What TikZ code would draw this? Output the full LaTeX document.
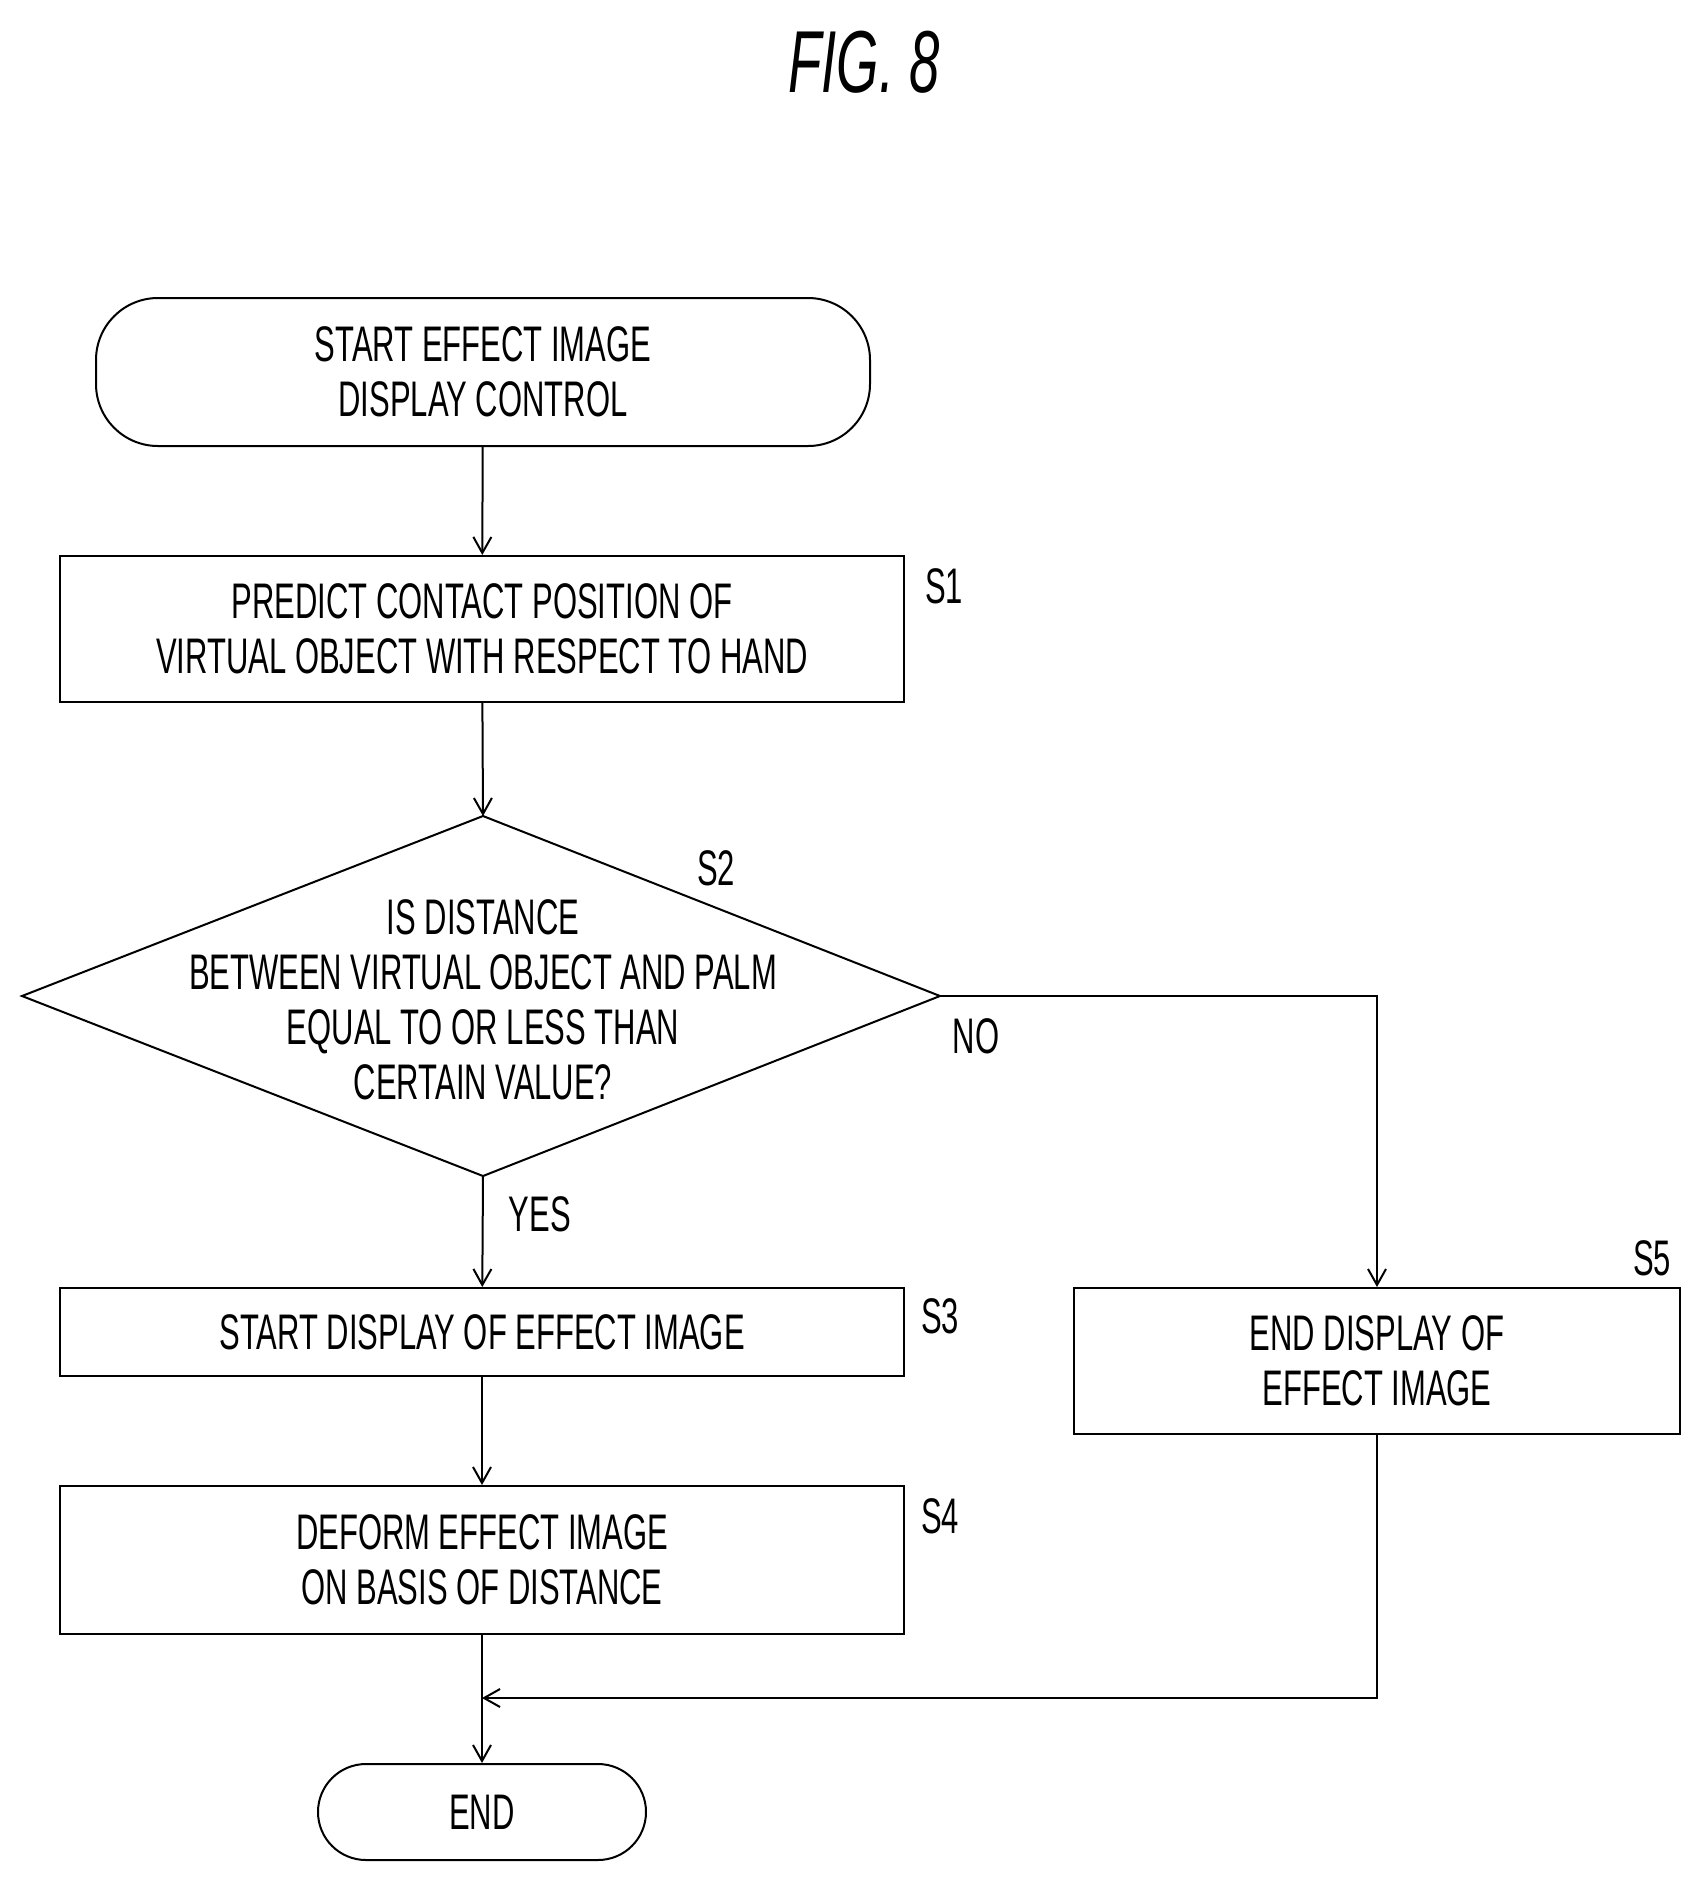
\documentclass[tikz,border=0pt]{standalone}
\usepackage{fontspec}
\setmainfont{Liberation Sans}[FakeStretch=0.62]
\usetikzlibrary{arrows.meta}
\begin{document}
\begin{tikzpicture}[x=1pt,y=-1pt,
  every node/.style={font=\fontsize{50}{55}\selectfont, align=center},
  box/.style={draw, line width=2pt, inner sep=0pt},
  lab/.style={font=\fontsize{50}{55}\selectfont},
  ln/.style={line width=2pt},
  arr/.style={ln, -{Straight Barb[length=16pt,width=18pt,line width=2pt]}}]
\useasboundingbox (0,0) rectangle (1704,1883);
\node[font=\fontsize{88}{90}\selectfont\itshape] (title) at (864,62) {FIG. 8};
\node[box, rounded corners=62pt, minimum width=774pt, minimum height=148pt] (start) at (483,372) {START EFFECT IMAGE\\DISPLAY CONTROL};
\node[box, minimum width=844pt, minimum height=146pt] (s1) at (482,629) {PREDICT CONTACT POSITION OF\\VIRTUAL OBJECT WITH RESPECT TO HAND};
\node[lab] (l1) at (944,586) {S1};
\coordinate (dt) at (483,816); \coordinate (db) at (483,1176);
\coordinate (dl) at (22,996); \coordinate (dr) at (940,996);
\draw[ln] (dt) -- (dr) -- (db) -- (dl) -- cycle;
\node (s2) at (483,1000) {IS DISTANCE\\BETWEEN VIRTUAL OBJECT AND PALM\\EQUAL TO OR LESS THAN\\CERTAIN VALUE?};
\node[lab] (l2) at (716,868) {S2};
\node[lab] (no) at (976,1036) {NO};
\node[lab] (yes) at (540,1214) {YES};
\node[box, minimum width=844pt, minimum height=88pt] (s3) at (482,1332) {START DISPLAY OF EFFECT IMAGE};
\node[lab] (l3) at (940,1316) {S3};
\node[box, minimum width=606pt, minimum height=146pt] (s5) at (1377,1361) {END DISPLAY OF\\EFFECT IMAGE};
\node[lab] (l5) at (1652,1258) {S5};
\node[box, minimum width=844pt, minimum height=148pt] (s4) at (482,1560) {DEFORM EFFECT IMAGE\\ON BASIS OF DISTANCE};
\node[lab] (l4) at (940,1516) {S4};
\node[box, rounded corners=48pt, minimum width=328pt, minimum height=96pt] (end) at (482,1812) {END};
\coordinate (m) at (482,1698);
\draw[arr] (start) -- (s1);
\draw[arr] (s1) -- (dt);
\draw[arr] (db) -- (s3);
\draw[arr] (s3) -- (s4);
\draw[arr] (dr) -| (s5.north);
\draw[arr] (s5.south) |- (m);
\draw[arr] (s4) -- (end);
\end{tikzpicture}
\end{document}
